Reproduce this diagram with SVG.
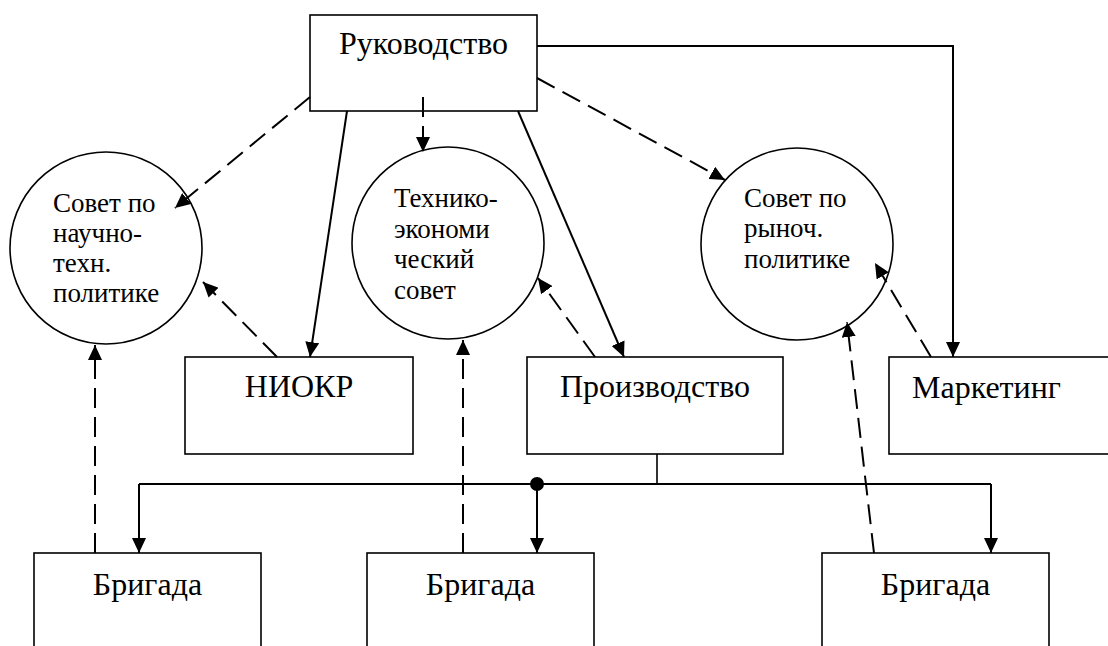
<svg xmlns="http://www.w3.org/2000/svg" width="1108" height="646" viewBox="0 0 1108 646">
<style>
.box{fill:#fff;stroke:#000;stroke-width:1.6}
.circ{fill:#fff;stroke:#000;stroke-width:1.6}
.big{font-family:"Liberation Serif","Times New Roman",serif;font-size:32px;fill:#000}
.small{font-family:"Liberation Serif","Times New Roman",serif;font-size:27px;fill:#000}
.solid{fill:none;stroke:#000;stroke-width:2}
.dash{fill:none;stroke:#000;stroke-width:2;stroke-dasharray:20 9}
.thin{fill:none;stroke:#000;stroke-width:1.6}
</style>
<defs>
<marker id="arr" markerUnits="userSpaceOnUse" markerWidth="16" markerHeight="14" refX="15" refY="7" orient="auto">
<path d="M0,0 L15,7 L0,14 Z" fill="#000"/>
</marker>
</defs>
<rect width="1108" height="646" fill="#fff"/>

<g id="rukovodstvo">
<rect class="box" x="310" y="15" width="227" height="96"/>
<text class="big" x="423.5" y="54" text-anchor="middle">Руководство</text>
</g>

<g id="sovet-nt">
<circle class="circ" cx="106" cy="248" r="96"/>
<text class="small" x="53" y="212">Совет по</text>
<text class="small" x="53" y="242">научно-</text>
<text class="small" x="53" y="272">техн.</text>
<text class="small" x="53" y="302">политике</text>
</g>

<g id="tes">
<circle class="circ" cx="448" cy="243" r="96"/>
<text class="small" x="394" y="207">Технико-</text>
<text class="small" x="394" y="238">экономи</text>
<text class="small" x="394" y="268">ческий</text>
<text class="small" x="394" y="299">совет</text>
</g>

<g id="sovet-rp">
<circle class="circ" cx="797" cy="244" r="96"/>
<text class="small" x="744" y="207">Совет по</text>
<text class="small" x="744" y="237">рыноч.</text>
<text class="small" x="744" y="268">политике</text>
</g>

<g id="niokr">
<rect class="box" x="185" y="357" width="228" height="97"/>
<text class="big" x="299" y="397" text-anchor="middle">НИОКР</text>
</g>

<g id="proizvodstvo">
<rect class="box" x="527" y="357" width="256" height="97"/>
<text class="big" x="655" y="397" text-anchor="middle">Производство</text>
</g>

<g id="marketing">
<rect class="box" x="889" y="357" width="240" height="97"/>
<text class="big" x="912" y="398">Маркетинг</text>
</g>

<g id="brigada1">
<rect class="box" x="34" y="553" width="227" height="110"/>
<text class="big" x="147.5" y="595" text-anchor="middle">Бригада</text>
</g>

<g id="brigada2">
<rect class="box" x="367" y="553" width="227" height="110"/>
<text class="big" x="480.5" y="595" text-anchor="middle">Бригада</text>
</g>

<g id="brigada3">
<rect class="box" x="822" y="553" width="227" height="110"/>
<text class="big" x="935.5" y="595" text-anchor="middle">Бригада</text>
</g>

<g id="connectors">
<polyline class="solid" points="537,46 953,46 953,357" marker-end="url(#arr)"/>
<line class="solid" x1="347" y1="111" x2="310" y2="357" marker-end="url(#arr)"/>
<line class="solid" x1="518" y1="111" x2="624" y2="357" marker-end="url(#arr)"/>
<line class="dash" x1="310" y1="97" x2="175" y2="208" marker-end="url(#arr)"/>
<line class="dash" x1="423" y1="97" x2="423" y2="152" marker-end="url(#arr)"/>
<line class="dash" x1="537" y1="78" x2="725" y2="180" marker-end="url(#arr)"/>
<line class="dash" x1="277" y1="357" x2="203" y2="282" marker-end="url(#arr)"/>
<line class="dash" x1="595" y1="357" x2="538" y2="278" marker-end="url(#arr)"/>
<line class="dash" x1="931" y1="357" x2="875" y2="263" marker-end="url(#arr)"/>
<line class="dash" x1="874" y1="553" x2="847" y2="322" marker-end="url(#arr)"/>
<line class="dash" x1="95" y1="553" x2="95" y2="345" marker-end="url(#arr)"/>
<line class="dash" x1="463" y1="553" x2="463" y2="340" marker-end="url(#arr)"/>
<line class="thin" x1="657" y1="454" x2="657" y2="484"/>
<line class="solid" x1="139" y1="484" x2="991" y2="484"/>
<line class="solid" x1="139" y1="484" x2="139" y2="553" marker-end="url(#arr)"/>
<line class="solid" x1="537" y1="484" x2="537" y2="553" marker-end="url(#arr)"/>
<line class="solid" x1="991" y1="484" x2="991" y2="553" marker-end="url(#arr)"/>
<circle cx="537" cy="484" r="7" fill="#000"/>
</g>
</svg>
